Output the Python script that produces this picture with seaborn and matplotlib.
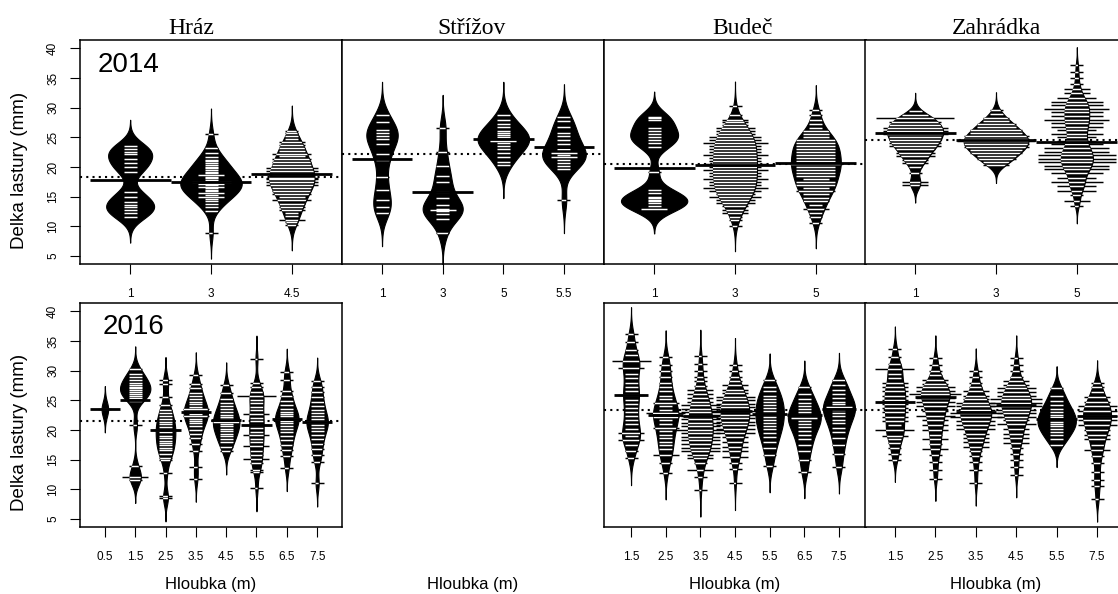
import numpy as np
import matplotlib
matplotlib.use("Agg")
import matplotlib.pyplot as plt
import seaborn as sns

sns.set_style("ticks", {"axes.edgecolor": "black", "xtick.color": "black",
                        "ytick.color": "black", "text.color": "black",
                        "axes.labelcolor": "black"})
plt.rcParams["font.family"] = ["Liberation Sans", "DejaVu Sans"]

# ---------------------------------------------------------------- data
# each bean: list of (shell length in mm, number of shells with that length)
SITES = ["Hráz", "Střížov", "Budeč", "Zahrádka"]
YEARS = ["2014", "2016"]

HRAZ_2014_DEPTHS = ["1", "3", "4.5"]
HRAZ_2014_OBS = [
    [(11.6, 1), (12.2, 1), (12.7, 1), (13.2, 1), (13.6, 1), (14.1, 1), (14.9, 1), (15.7, 1),
     (19.2, 1), (20.0, 1), (20.6, 1), (21.4, 1), (22.2, 1), (22.6, 1), (23.0, 1), (23.6, 1)],
    [(8.9, 1), (12.5, 1), (13.2, 1), (13.8, 1), (14.2, 1), (14.6, 1), (15.0, 2), (15.3, 1),
     (15.6, 2), (15.9, 1), (16.1, 1), (16.4, 1), (16.7, 2), (16.9, 1), (17.1, 2), (17.3, 1),
     (17.5, 3), (17.8, 1), (18.1, 1), (18.3, 1), (18.6, 2), (19.0, 1), (19.2, 1), (19.5, 1),
     (19.8, 1), (20.0, 1), (20.4, 1), (20.6, 1), (21.0, 1), (21.2, 1), (21.7, 1), (22.4, 1),
     (23.2, 1), (25.5, 1)],
    [(10.3, 1), (10.8, 1), (11.1, 2), (11.8, 1), (12.3, 1), (12.8, 2), (13.3, 2), (13.8, 2),
     (14.4, 3), (14.9, 2), (15.4, 3), (15.9, 3), (16.4, 3), (16.9, 4), (17.4, 4), (17.9, 4),
     (18.2, 4), (18.8, 3), (19.3, 4), (19.8, 4), (20.3, 3), (20.8, 3), (21.3, 3), (21.8, 2),
     (22.2, 3), (22.7, 2), (23.2, 2), (23.7, 2), (24.2, 2), (24.7, 1), (25.2, 1), (25.7, 1),
     (26.0, 1)],
]
HRAZ_2014_MEANS = [17.75, 17.5, 18.9]
HRAZ_2014_OVERALL = 18.35

STRIZOV_2014_DEPTHS = ["1", "3", "5", "5.5"]
STRIZOV_2014_OBS = [
    [(12.2, 1), (13.3, 1), (14.4, 1), (16.2, 1), (18.3, 1), (21.1, 1), (22.2, 1), (23.9, 1),
     (24.7, 1), (25.2, 1), (25.8, 1), (26.2, 1), (27.5, 1), (28.8, 1)],
    [(8.8, 1), (11.3, 1), (12.1, 1), (12.5, 1), (12.8, 2), (13.0, 1), (13.6, 1), (14.7, 1),
     (15.8, 1), (17.4, 1), (18.4, 1), (20.1, 1), (22.6, 1), (26.6, 1)],
    [(20.3, 1), (20.9, 1), (21.6, 1), (22.3, 1), (23.0, 1), (23.6, 1), (24.0, 1), (24.3, 2),
     (24.5, 2), (24.8, 1), (25.1, 1), (25.4, 1), (25.7, 1), (26.1, 1), (26.7, 1), (27.3, 1),
     (27.9, 1), (28.8, 1)],
    [(14.4, 1), (19.6, 1), (20.2, 1), (20.6, 1), (21.2, 1), (21.7, 2), (22.0, 1), (22.3, 2),
     (23.1, 1), (23.8, 1), (24.6, 1), (25.2, 1), (25.8, 1), (26.8, 1), (27.8, 1), (28.4, 1)],
]
STRIZOV_2014_MEANS = [21.3, 15.7, 24.8, 23.3]
STRIZOV_2014_OVERALL = 22.2

BUDEC_2014_DEPTHS = ["1", "3", "5"]
BUDEC_2014_OBS = [
    [(13.0, 2), (13.5, 1), (13.9, 1), (14.2, 1), (14.4, 1), (14.7, 1), (15.0, 1), (15.6, 1),
     (16.1, 1), (19.2, 1), (23.4, 1), (24.0, 1), (24.6, 1), (25.0, 1), (25.5, 1), (26.0, 1),
     (26.6, 1), (27.9, 1), (28.2, 1), (28.5, 1)],
    [(10.0, 1), (11.0, 1), (11.6, 1), (12.2, 2), (12.8, 2), (13.4, 2), (14.0, 3), (14.5, 3),
     (15.0, 4), (15.5, 3), (16.0, 4), (16.5, 5), (17.0, 4), (17.5, 4), (18.0, 5), (18.5, 4),
     (19.0, 4), (19.5, 5), (20.0, 4), (20.5, 5), (21.0, 4), (21.5, 4), (22.0, 5), (22.5, 4),
     (23.0, 4), (23.5, 4), (24.0, 5), (24.5, 4), (25.0, 4), (25.5, 3), (26.0, 3), (26.5, 3),
     (27.0, 2), (27.5, 2), (28.0, 2), (28.8, 1), (30.2, 1)],
    [(10.5, 1), (11.5, 1), (12.3, 1), (13.0, 2), (13.6, 1), (14.2, 2), (14.8, 2), (15.4, 2),
     (16.0, 3), (16.5, 2), (17.0, 3), (17.5, 3), (18.0, 2), (18.5, 3), (19.0, 3), (19.5, 3),
     (20.0, 3), (20.5, 4), (21.0, 3), (21.5, 3), (22.0, 3), (22.5, 3), (23.0, 3), (23.5, 3),
     (24.0, 3), (24.5, 3), (25.0, 2), (25.5, 2), (26.0, 2), (26.6, 1), (27.2, 1), (28.0, 1),
     (28.8, 1), (29.6, 1)],
]
BUDEC_2014_MEANS = [19.9, 20.3, 20.7]
BUDEC_2014_OVERALL = 20.5

ZAHRADKA_2014_DEPTHS = ["1", "3", "5"]
ZAHRADKA_2014_OBS = [
    [(17.0, 2), (17.5, 2), (19.0, 1), (20.0, 1), (20.6, 2), (21.2, 2), (21.8, 3), (22.4, 3),
     (23.0, 3), (23.5, 4), (24.0, 4), (24.5, 4), (25.0, 4), (25.5, 5), (26.0, 5), (26.5, 5),
     (27.0, 4), (27.5, 4), (28.2, 6), (28.8, 2), (29.5, 1)],
    [(20.3, 2), (20.8, 2), (21.3, 3), (21.8, 3), (22.3, 4), (22.8, 4), (23.3, 5), (23.8, 5),
     (24.3, 6), (24.8, 5), (25.3, 5), (25.8, 4), (26.3, 4), (26.8, 3), (27.3, 3), (27.8, 2),
     (28.3, 2), (29.0, 1), (29.6, 1)],
    [(13.5, 1), (14.2, 2), (15.2, 1), (16.0, 3), (16.8, 3), (17.5, 4), (18.2, 3), (19.0, 4),
     (19.6, 5), (20.2, 5), (20.8, 6), (21.4, 6), (22.0, 6), (22.6, 5), (23.2, 5), (23.8, 4),
     (24.4, 3), (25.0, 3), (25.6, 4), (26.2, 3), (26.8, 4), (27.4, 4), (28.0, 5), (28.6, 4),
     (29.2, 4), (29.8, 5), (30.4, 4), (31.0, 4), (31.6, 3), (32.4, 2), (33.2, 2), (34.0, 1),
     (35.0, 1), (36.0, 1), (37.2, 1)],
]
ZAHRADKA_2014_MEANS = [25.8, 24.5, 24.2]
ZAHRADKA_2014_OVERALL = 24.55

HRAZ_2016_DEPTHS = ["0.5", "1.5", "2.5", "3.5", "4.5", "5.5", "6.5", "7.5"]
HRAZ_2016_OBS = [
    [(23.5, 1)],
    [(11.6, 1), (12.1, 2), (14.0, 1), (20.8, 1), (24.9, 1), (25.4, 1), (25.8, 1), (26.1, 1),
     (26.4, 1), (26.7, 1), (27.0, 1), (27.3, 1), (27.6, 1), (28.0, 1), (28.4, 1), (28.9, 1),
     (29.5, 1), (30.2, 1)],
    [(8.5, 1), (8.8, 1), (12.7, 1), (14.9, 1), (15.2, 1), (16.0, 1), (16.6, 1), (17.0, 1),
     (17.4, 1), (17.8, 1), (18.2, 1), (18.6, 1), (19.0, 1), (19.6, 1), (20.0, 2), (20.5, 1),
     (21.0, 1), (21.4, 1), (21.9, 1), (22.3, 1), (22.8, 1), (23.4, 1), (24.2, 1), (25.5, 1),
     (27.8, 1), (28.4, 1)],
    [(11.8, 1), (13.8, 1), (16.5, 1), (17.7, 1), (18.6, 1), (19.4, 1), (20.0, 1), (20.6, 1),
     (21.1, 1), (21.5, 1), (21.9, 1), (22.3, 2), (22.7, 1), (23.1, 1), (23.5, 2), (23.9, 1),
     (24.3, 1), (24.7, 1), (25.2, 1), (25.7, 1), (26.3, 1), (27.0, 1), (27.8, 1), (29.2, 1)],
    [(16.4, 1), (17.2, 1), (17.9, 1), (18.5, 1), (19.0, 1), (19.4, 1), (19.8, 1), (20.2, 1),
     (20.6, 1), (21.0, 1), (21.4, 2), (21.8, 1), (22.2, 1), (22.6, 1), (23.0, 1), (23.5, 1),
     (24.0, 1), (24.6, 1), (25.3, 1), (26.2, 1), (27.5, 1)],
    [(10.2, 1), (12.9, 1), (13.3, 1), (14.4, 1), (15.1, 2), (15.8, 1), (16.5, 1), (17.3, 2),
     (17.9, 1), (18.5, 1), (19.1, 2), (19.7, 1), (20.3, 1), (20.9, 2), (21.5, 1), (22.1, 1),
     (22.7, 2), (23.3, 1), (23.9, 1), (24.5, 1), (25.1, 1), (25.7, 3), (26.4, 1), (27.2, 1),
     (28.0, 1), (32.0, 1)],
    [(13.6, 1), (15.6, 1), (16.6, 1), (17.5, 1), (18.3, 1), (19.0, 1), (19.6, 1), (20.1, 1),
     (20.6, 1), (21.1, 1), (21.5, 1), (21.9, 2), (22.3, 1), (22.7, 1), (23.1, 1), (23.6, 1),
     (24.2, 1), (24.9, 1), (25.7, 1), (26.6, 1), (28.4, 1), (29.8, 1)],
    [(11.0, 1), (14.6, 1), (15.8, 1), (16.8, 1), (17.7, 1), (18.5, 1), (19.2, 1), (19.8, 1),
     (20.3, 1), (20.8, 1), (21.3, 2), (21.8, 1), (22.3, 1), (22.8, 1), (23.4, 1), (24.0, 1),
     (24.7, 1), (25.5, 1), (26.4, 1), (27.3, 1), (28.3, 1)],
]
HRAZ_2016_MEANS = [23.6, 25.1, 20.0, 23.1, 21.7, 20.8, 21.9, 21.4]
HRAZ_2016_OVERALL = 21.55

BUDEC_2016_DEPTHS = ["1.5", "2.5", "3.5", "4.5", "5.5", "6.5", "7.5"]
BUDEC_2016_OBS = [
    [(15.2, 1), (16.4, 1), (17.4, 1), (18.3, 2), (19.0, 1), (19.5, 2), (20.2, 1), (21.0, 1),
     (21.6, 1), (22.3, 1), (23.0, 1), (23.7, 1), (24.4, 1), (25.1, 1), (25.9, 2), (26.6, 1),
     (27.3, 1), (28.0, 1), (28.7, 1), (29.4, 1), (30.4, 2), (31.6, 3), (32.6, 1), (33.5, 1),
     (34.8, 1), (36.2, 1)],
    [(12.8, 1), (14.5, 1), (15.8, 2), (16.8, 1), (17.5, 1), (18.0, 1), (18.6, 1), (19.2, 1),
     (19.8, 1), (20.4, 2), (21.0, 1), (21.6, 1), (22.2, 2), (22.8, 3), (23.4, 1), (24.0, 1),
     (24.6, 2), (25.2, 1), (25.8, 1), (26.5, 1), (27.2, 1), (28.0, 1), (29.0, 1), (30.0, 1),
     (31.0, 1), (32.3, 1)],
    [(9.9, 1), (12.0, 1), (13.2, 2), (14.4, 1), (15.2, 2), (15.8, 2), (16.4, 3), (17.0, 3),
     (17.6, 3), (18.3, 3), (18.9, 3), (19.5, 3), (20.0, 4), (20.6, 3), (21.2, 3), (21.8, 3),
     (22.4, 3), (23.0, 3), (23.6, 3), (24.2, 3), (24.8, 2), (25.4, 2), (26.0, 2), (26.7, 2),
     (27.4, 1), (28.2, 1), (29.0, 1), (30.0, 1), (31.2, 1), (32.4, 1)],
    [(11.0, 1), (13.4, 1), (14.5, 1), (15.5, 2), (16.4, 2), (17.2, 2), (18.0, 2), (18.8, 2),
     (19.5, 3), (20.2, 3), (20.8, 3), (21.4, 3), (22.0, 3), (22.6, 4), (23.2, 4), (23.8, 3),
     (24.4, 3), (25.0, 3), (25.6, 3), (26.2, 2), (26.8, 2), (27.5, 2), (28.2, 1), (29.0, 1),
     (30.0, 1), (31.0, 1)],
    [(14.0, 1), (15.8, 1), (17.0, 1), (18.0, 1), (18.8, 1), (19.5, 1), (20.1, 1), (20.7, 1),
     (21.2, 1), (21.7, 1), (22.2, 1), (22.7, 1), (23.2, 1), (23.7, 1), (24.2, 1), (24.7, 1),
     (25.2, 1), (25.8, 1), (26.5, 1), (27.3, 1), (28.4, 1)],
    [(13.0, 1), (15.0, 1), (16.4, 1), (17.5, 1), (18.4, 1), (19.2, 1), (19.9, 1), (20.5, 1),
     (21.0, 1), (21.5, 1), (22.0, 2), (22.5, 1), (23.0, 1), (23.5, 1), (24.0, 1), (24.6, 1),
     (25.3, 1), (26.1, 1), (27.2, 1)],
    [(13.8, 1), (16.0, 1), (17.4, 1), (18.6, 1), (19.6, 1), (20.4, 1), (21.1, 1), (21.7, 1),
     (22.3, 1), (22.8, 1), (23.3, 1), (23.8, 2), (24.3, 1), (24.8, 1), (25.4, 1), (26.0, 1),
     (26.8, 1), (27.6, 1), (28.5, 1)],
]
BUDEC_2016_MEANS = [25.9, 22.5, 22.4, 23.2, 22.7, 22.5, 23.6]
BUDEC_2016_OVERALL = 23.3

ZAHRADKA_2016_DEPTHS = ["1.5", "2.5", "3.5", "4.5", "5.5", "7.5"]
ZAHRADKA_2016_OBS = [
    [(15.0, 1), (16.0, 1), (17.0, 1), (17.8, 1), (18.5, 1), (19.0, 2), (20.0, 3), (20.8, 1),
     (21.5, 2), (22.2, 2), (23.0, 2), (23.7, 2), (24.4, 2), (25.1, 2), (25.8, 2), (26.5, 2),
     (27.2, 2), (28.0, 2), (28.8, 1), (29.5, 1), (30.2, 3), (31.2, 1), (32.3, 1), (33.7, 1)],
    [(11.8, 1), (13.3, 1), (14.6, 1), (15.8, 1), (16.8, 2), (17.6, 1), (18.4, 2), (19.2, 1),
     (20.0, 2), (20.8, 2), (21.6, 2), (22.4, 3), (23.2, 2), (24.0, 3), (24.7, 3), (25.4, 3),
     (26.0, 4), (26.6, 3), (27.2, 3), (27.8, 2), (28.5, 2), (29.2, 1), (30.0, 1), (31.0, 1),
     (32.2, 1)],
    [(11.0, 1), (13.2, 1), (14.6, 1), (15.6, 1), (16.4, 1), (17.2, 2), (18.0, 2), (18.7, 2),
     (19.4, 2), (20.1, 3), (20.8, 3), (21.5, 3), (22.2, 4), (22.8, 4), (23.4, 3), (24.0, 3),
     (24.6, 3), (25.2, 2), (25.8, 2), (26.5, 2), (27.2, 1), (28.0, 1), (29.0, 1), (30.0, 1)],
    [(12.4, 1), (13.8, 1), (15.0, 1), (16.0, 1), (17.0, 1), (17.8, 2), (18.6, 2), (19.4, 2),
     (20.2, 2), (21.0, 3), (21.6, 2), (22.2, 3), (22.8, 3), (23.4, 3), (24.0, 4), (24.6, 4),
     (25.2, 4), (25.8, 3), (26.4, 3), (27.0, 3), (27.6, 2), (28.3, 2), (29.0, 1), (30.0, 1),
     (31.0, 1), (32.2, 1)],
    [(17.5, 1), (18.4, 1), (19.1, 1), (19.7, 1), (20.2, 1), (20.6, 1), (21.0, 1), (21.4, 1),
     (21.8, 1), (22.2, 1), (22.6, 1), (23.1, 1), (23.6, 1), (24.2, 1), (24.9, 1), (25.8, 1),
     (27.0, 1)],
    [(8.3, 1), (10.5, 1), (11.5, 1), (13.0, 1), (14.5, 1), (15.6, 1), (16.6, 2), (17.5, 1),
     (18.4, 2), (19.2, 2), (20.0, 2), (20.8, 3), (21.6, 3), (22.4, 3), (23.2, 3), (24.0, 3),
     (24.8, 2), (25.6, 2), (26.4, 1), (27.2, 1), (28.0, 1)],
]
ZAHRADKA_2016_MEANS = [24.7, 25.6, 23.1, 24.2, 21.9, 22.3]
ZAHRADKA_2016_OVERALL = 23.45

Y_TICKS = [5, 10, 15, 20, 25, 30, 35, 40]

# ---------------------------------------------------------------- layout
W_PX, H_PX = 1118, 594
fig = plt.figure(figsize=(W_PX / 100, H_PX / 100), dpi=100)
fig.patch.set_facecolor("white")
COL_X = [80, 342, 604, 865]
COL_W = 262
ROW_Y = [40, 303]
ROW_H = 224

SANS = ["Liberation Sans", "DejaVu Sans"]
SERIF = ["Liberation Serif", "DejaVu Serif"]


def make_axes(row, col):
    x0, y0 = COL_X[col], ROW_Y[row]
    return fig.add_axes([x0 / W_PX, 1 - (y0 + ROW_H) / H_PX, COL_W / W_PX, ROW_H / H_PX])


def gauss_density(grid, vals, bw):
    z = (grid[:, None] - vals[None, :]) / bw
    return np.exp(-0.5 * z * z).sum(axis=1) / (len(vals) * bw * np.sqrt(2 * np.pi))


def kde_peak(vals, bw):
    grid = np.linspace(vals.min() - 3 * bw, vals.max() + 3 * bw, 600)
    return gauss_density(grid, vals, bw).max()


def draw_panel(ax, row, col, depths, obs, means, overall, bw, maxw, ll_px=13.0):
    n = len(depths)
    m = 0.5 + 0.04 * n
    px_per_unit = COL_W / (n - 1 + 2 * m)
    ll = ll_px / px_per_unit

    samples = [np.repeat([v for v, _ in b], [c for _, c in b]).astype(float) for b in obs]
    # beans with fewer than 10 shells are drawn proportionally narrower
    scales = [min(1.0, len(s) / 10.0) * kde_peak(s, bw) for s in samples]
    smax = max(scales)

    ax.axhline(overall, color="black", lw=1.5, ls=(0, (1, 2)), zorder=0.8)

    for i, s in enumerate(samples):
        w = maxw * scales[i] / smax
        if len(s) > 1:
            sns.violinplot(x=np.full(len(s), float(i)), y=s, native_scale=True, orient="x",
                           width=w, density_norm="width", cut=3,
                           bw_method=bw / np.std(s, ddof=1), gridsize=200,
                           inner=None, color="black", linecolor="black", linewidth=0.8,
                           saturation=1, ax=ax)
            poly = ax.collections[-1]
        else:
            yy = np.linspace(s[0] - 3 * bw, s[0] + 3 * bw, 200)
            dd = gauss_density(yy, s, bw)
            hw = w / 2 * dd / dd.max()
            poly = ax.fill_betweenx(yy, i - hw, i + hw, facecolor="black",
                                    edgecolor="black", lw=0.8)
        uv = np.array([v for v, _ in obs[i]])
        cnt = np.array([c for _, c in obs[i]])
        half = ll * cnt / 2.0
        ax.hlines(uv, i - half, i + half, colors="black", lw=1.05, zorder=3)
        wl = ax.hlines(uv, i - half, i + half, colors="white", lw=1.05, zorder=4)
        wl.set_clip_path(poly.get_paths()[0], poly.get_transform())
        ax.hlines(means[i], i - 0.5, i + 0.5, colors="black", lw=2.0, zorder=5)

    ax.set_xlim(-m, n - 1 + m)
    ax.set_ylim(3.65, 41.4)
    ax.set_xticks(range(n))
    ax.set_xticklabels(depths)
    ax.set_yticks(Y_TICKS)
    ax.set_xlabel("")
    ax.set_ylabel("")
    ax.tick_params(axis="x", length=7, width=0.8, pad=10.5, labelsize=8.5, direction="out")
    if col == 0:
        ax.tick_params(axis="y", length=7, width=0.8, pad=8.0, labelsize=8.5,
                       labelrotation=90, direction="out")
        for lab in ax.get_yticklabels():
            lab.set_va("center")
    else:
        ax.tick_params(axis="y", left=False, labelleft=False)
    for sp in ax.spines.values():
        sp.set_visible(True)
        sp.set_linewidth(1.1)
        sp.set_color("black")


PANELS = [
    (0, 0, HRAZ_2014_DEPTHS, HRAZ_2014_OBS, HRAZ_2014_MEANS, HRAZ_2014_OVERALL, 1.45, 0.76),
    (0, 1, STRIZOV_2014_DEPTHS, STRIZOV_2014_OBS, STRIZOV_2014_MEANS, STRIZOV_2014_OVERALL, 1.85, 0.85),
    (0, 2, BUDEC_2014_DEPTHS, BUDEC_2014_OBS, BUDEC_2014_MEANS, BUDEC_2014_OVERALL, 1.4, 0.82),
    (0, 3, ZAHRADKA_2014_DEPTHS, ZAHRADKA_2014_OBS, ZAHRADKA_2014_MEANS, ZAHRADKA_2014_OVERALL, 1.0, 0.8),
    (1, 0, HRAZ_2016_DEPTHS, HRAZ_2016_OBS, HRAZ_2016_MEANS, HRAZ_2016_OVERALL, 1.3, 1.0),
    (1, 2, BUDEC_2016_DEPTHS, BUDEC_2016_OBS, BUDEC_2016_MEANS, BUDEC_2016_OVERALL, 1.5, 0.95),
    (1, 3, ZAHRADKA_2016_DEPTHS, ZAHRADKA_2016_OBS, ZAHRADKA_2016_MEANS, ZAHRADKA_2016_OVERALL, 1.25, 0.95),
]

for row, col, depths, obs, means, overall, bw, maxw in PANELS:
    ax = make_axes(row, col)
    draw_panel(ax, row, col, depths, obs, means, overall, bw, maxw)
    if col == 0:
        ax.text(0.066 if row == 0 else 0.085, 0.857 if row == 0 else 0.862, YEARS[row],
                transform=ax.transAxes, fontsize=20, family=SANS, va="baseline", ha="left")

# site titles
for name, xc in zip(SITES, [191.5, 472, 742.5, 996]):
    fig.text(xc / W_PX, 1 - 34 / H_PX, name, family=SERIF, fontsize=17,
             ha="center", va="baseline")

# y labels
for yc in [170, 432]:
    fig.text(20 / W_PX, 1 - yc / H_PX, "Delka lastury (mm)", rotation=90, family=SANS,
             fontsize=13.5, ha="center", va="center")

# x labels (bottom row)
for col in range(4):
    xc = COL_X[col] + COL_W / 2
    fig.text(xc / W_PX, 1 - 585 / H_PX, "Hloubka (m)", family=SANS, fontsize=12,
             ha="center", va="center")

fig.savefig("out.png", dpi=100, facecolor="white")
